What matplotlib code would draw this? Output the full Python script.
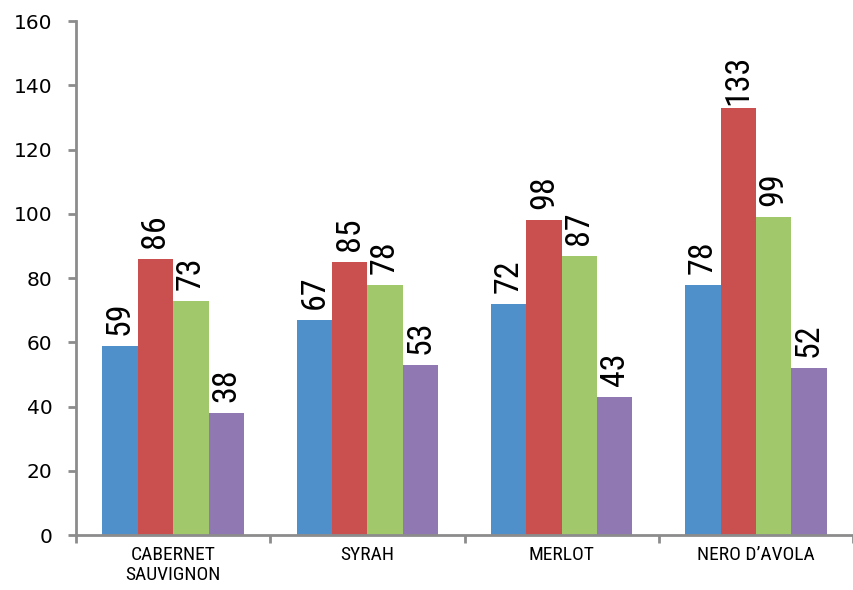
import matplotlib
matplotlib.use("Agg")
import matplotlib.pyplot as plt
import numpy as np
from matplotlib.ticker import FixedLocator

categories = ["CABERNET\nSAUVIGNON", "SYRAH", "MERLOT", "NERO D\u2019AVOLA"]
series_1 = [59, 67, 72, 78]
series_2 = [86, 85, 98, 133]
series_3 = [73, 78, 87, 99]
series_4 = [38, 53, 43, 52]
series = [series_1, series_2, series_3, series_4]
colors = ["#4F8FCA", "#C9504F", "#A1C86A", "#9079B3"]
yticks = [0, 20, 40, 60, 80, 100, 120, 140, 160]

narrow = ["Liberation Sans Narrow", "Roboto Condensed", "DejaVu Sans Condensed", "Liberation Sans"]

fig = plt.figure(figsize=(8.54, 5.90), dpi=100)
ax = fig.add_axes([0.089, 0.093, 0.910, 0.871])

n = len(categories)
x = np.arange(n)
bw = 0.182
offsets = (np.arange(len(series)) - (len(series) - 1) / 2) * bw
for s, off, c in zip(series, offsets, colors):
    bars = ax.bar(x + off, s, width=bw, color=c, edgecolor="none", zorder=2)
    for b, v in zip(bars, s):
        ax.annotate(str(v), (b.get_x() + b.get_width() / 2, v),
                    xytext=(0, 20), textcoords="offset points",
                    rotation=90, ha="center", va="center",
                    rotation_mode="anchor" if False else "default",
                    fontsize=24.5, family=narrow, fontstretch="condensed",
                    color="black")

ax.set_xlim(-0.5, n - 0.5)
ax.set_ylim(0, 160)
ax.set_yticks(yticks)
ax.set_yticklabels([str(t) for t in yticks], fontsize=14.5, family=["DejaVu Sans"])
ax.set_xticks(x)
ax.set_xticklabels(categories, fontsize=14, family=narrow, fontstretch="condensed",
                   linespacing=1.15)
ax.xaxis.set_minor_locator(FixedLocator(np.arange(-0.5, n, 1.0)))
ax.tick_params(axis="x", which="major", length=0, pad=8)
ax.tick_params(axis="x", which="minor", length=6, width=2, color="#8C8C8C", direction="out")
ax.tick_params(axis="y", which="major", length=6, width=2, color="#8C8C8C", direction="out", pad=11)

for sp in ["top", "right"]:
    ax.spines[sp].set_visible(False)
for sp in ["left", "bottom"]:
    ax.spines[sp].set_color("#8C8C8C")
    ax.spines[sp].set_linewidth(2)

fig.savefig("out.png", dpi=100)
